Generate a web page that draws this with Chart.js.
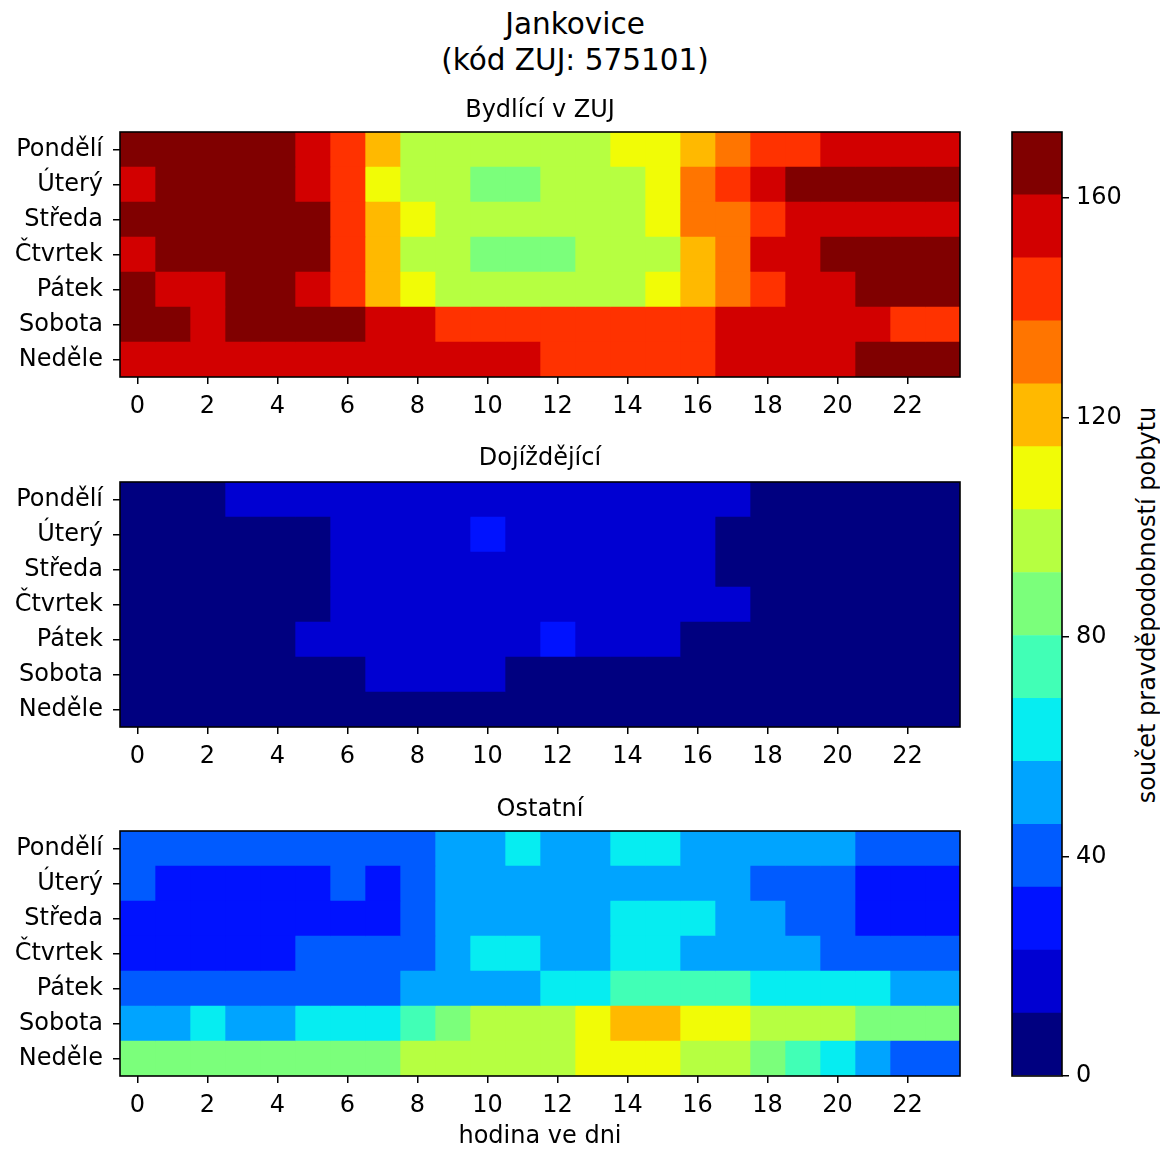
<!DOCTYPE html>
<html>
<head>
<meta charset="utf-8">
<script src="https://cdn.jsdelivr.net/npm/chart.js@4/dist/chart.umd.min.js"></script>
<style>
  html, body { margin: 0; padding: 0; background: #fff; }
  body { width: 1160px; height: 1149px; position: relative; overflow: hidden; font-family: "DejaVu Sans", sans-serif; color: #000; }
  canvas { position: absolute; }
  #sup { position: absolute; left: 0; top: 6px; width: 1150px; text-align: center; font-size: 29.5px; line-height: 36px; }
  #cblabel { position: absolute; left: 1147px; top: 605px; font-size: 24px; white-space: nowrap; transform: translate(-50%, -50%) rotate(-90deg); }
</style>
</head>
<body>
<div id="sup">Jankovice<br>(kód ZUJ: 575101)</div>
<div id="cblabel">součet pravděpodobností pobytu</div>
<canvas id="c1" width="975" height="330" style="left:0;top:90px"></canvas>
<canvas id="c2" width="975" height="330" style="left:0;top:440px"></canvas>
<canvas id="c3" width="975" height="360" style="left:0;top:789px"></canvas>
<canvas id="cb" width="170" height="1000" style="left:990px;top:100px"></canvas>
<script>
// ---------- data ----------
const days = ['Pondělí', 'Úterý', 'Středa', 'Čtvrtek', 'Pátek', 'Sobota', 'Neděle'];
const hours = [0, 1, 2, 3, 4, 5, 6, 7, 8, 9, 10, 11, 12, 13, 14, 15, 16, 17, 18, 19, 20, 21, 22, 23];
const hourTicks = [0, 2, 4, 6, 8, 10, 12, 14, 16, 18, 20, 22];
const colorbarTicks = [0, 40, 80, 120, 160];
const panelTitles = ['Bydlící v ZUJ', 'Dojíždějící', 'Ostatní'];
const xAxisTitle = 'hodina ve dni';
const colorbarTitle = 'součet pravděpodobností pobytu';
const vmin = 0, vmax = 172, nLevels = 15;

// rows = days (Pondělí .. Neděle), columns = hours 0..23
const residents = [
  [166,166,166,166,166,155,143,120, 97, 97, 97, 97, 97, 97,109,109,120,132,143,143,155,155,155,155],
  [155,166,166,166,166,155,143,109, 97, 97, 86, 86, 97, 97, 97,109,132,143,155,166,166,166,166,166],
  [166,166,166,166,166,166,143,120,109, 97, 97, 97, 97, 97, 97,109,132,132,143,155,155,155,155,155],
  [155,166,166,166,166,166,143,120, 97, 97, 86, 86, 86, 97, 97, 97,120,132,155,155,166,166,166,166],
  [166,155,155,166,166,155,143,120,109, 97, 97, 97, 97, 97, 97,109,120,132,143,155,155,166,166,166],
  [166,166,155,166,166,166,166,155,155,143,143,143,143,143,143,143,143,155,155,155,155,155,143,143],
  [155,155,155,155,155,155,155,155,155,155,155,155,143,143,143,143,143,155,155,155,155,166,166,166]
];
const commuters = [
  [  6,  6,  6, 17, 17, 17, 17, 17, 17, 17, 17, 17, 17, 17, 17, 17, 17, 17,  6,  6,  6,  6,  6,  6],
  [  6,  6,  6,  6,  6,  6, 17, 17, 17, 17, 29, 17, 17, 17, 17, 17, 17,  6,  6,  6,  6,  6,  6,  6],
  [  6,  6,  6,  6,  6,  6, 17, 17, 17, 17, 17, 17, 17, 17, 17, 17, 17,  6,  6,  6,  6,  6,  6,  6],
  [  6,  6,  6,  6,  6,  6, 17, 17, 17, 17, 17, 17, 17, 17, 17, 17, 17, 17,  6,  6,  6,  6,  6,  6],
  [  6,  6,  6,  6,  6, 17, 17, 17, 17, 17, 17, 17, 29, 17, 17, 17,  6,  6,  6,  6,  6,  6,  6,  6],
  [  6,  6,  6,  6,  6,  6,  6, 17, 17, 17, 17,  6,  6,  6,  6,  6,  6,  6,  6,  6,  6,  6,  6,  6],
  [  6,  6,  6,  6,  6,  6,  6,  6,  6,  6,  6,  6,  6,  6,  6,  6,  6,  6,  6,  6,  6,  6,  6,  6]
];
const others = [
  [ 40, 40, 40, 40, 40, 40, 40, 40, 40, 52, 52, 63, 52, 52, 63, 63, 52, 52, 52, 52, 52, 40, 40, 40],
  [ 40, 29, 29, 29, 29, 29, 40, 29, 40, 52, 52, 52, 52, 52, 52, 52, 52, 52, 40, 40, 40, 29, 29, 29],
  [ 29, 29, 29, 29, 29, 29, 29, 29, 40, 52, 52, 52, 52, 52, 63, 63, 63, 52, 52, 40, 40, 29, 29, 29],
  [ 29, 29, 29, 29, 29, 40, 40, 40, 40, 52, 63, 63, 52, 52, 63, 63, 52, 52, 52, 52, 40, 40, 40, 40],
  [ 40, 40, 40, 40, 40, 40, 40, 40, 52, 52, 52, 52, 63, 63, 75, 75, 75, 75, 63, 63, 63, 63, 52, 52],
  [ 52, 52, 63, 52, 52, 63, 63, 63, 75, 86, 97, 97, 97,109,120,120,109,109, 97, 97, 97, 86, 86, 86],
  [ 86, 86, 86, 86, 86, 86, 86, 86, 97, 97, 97, 97, 97,109,109,109, 97, 97, 86, 75, 63, 52, 40, 40]
];

// ---------- colour map (discrete jet) ----------
const JR = [[0,0],[0.35,0],[0.66,1],[0.89,1],[1,0.5]];
const JG = [[0,0],[0.125,0],[0.375,1],[0.64,1],[0.91,0],[1,0]];
const JB = [[0,0.5],[0.11,1],[0.34,1],[0.65,0],[1,0]];
function interp(pts, x) {
  for (let i = 1; i < pts.length; i++) {
    if (x <= pts[i][0]) {
      const [x0, y0] = pts[i - 1], [x1, y1] = pts[i];
      return y0 + (y1 - y0) * (x - x0) / (x1 - x0);
    }
  }
  return pts[pts.length - 1][1];
}
function levelOf(v) {
  return Math.max(0, Math.min(nLevels - 1, Math.floor((v - vmin) / (vmax - vmin) * nLevels)));
}
function levelColor(k) {
  const x = k / (nLevels - 1);
  const c = f => Math.round(255 * f);
  return `rgb(${c(interp(JR, x))},${c(interp(JG, x))},${c(interp(JB, x))})`;
}

const FONT = '"DejaVu Sans", sans-serif';
const TICK_FONT = { family: FONT, size: 24 };

const framePlugin = {
  id: 'frame',
  afterDatasetsDraw(chart) {
    const { ctx, chartArea: a } = chart;
    ctx.save();
    ctx.strokeStyle = '#000';
    ctx.lineWidth = 1.6;
    ctx.strokeRect(a.left, a.top, a.right - a.left, a.bottom - a.top);
    ctx.restore();
  }
};

function heatmap(id, title, values, cfg) {
  const datasets = hours.map((h, hi) => ({
    label: String(h),
    data: days.map(() => [h - 0.5, h + 0.5]),
    backgroundColor: days.map((d, di) => levelColor(levelOf(values[di][hi]))),
    borderWidth: 0,
    grouped: false,
    barPercentage: 1,
    categoryPercentage: 1
  }));
  return new Chart(document.getElementById(id), {
    type: 'bar',
    data: { labels: days, datasets },
    plugins: [framePlugin],
    options: {
      indexAxis: 'y',
      responsive: false,
      animation: false,
      devicePixelRatio: 1,
      layout: { padding: { left: 0, right: 15, top: 0, bottom: 0 } },
      plugins: {
        legend: { display: false },
        tooltip: { enabled: false },
        title: {
          display: true, text: title, color: '#000', fullSize: false,
          font: { family: FONT, size: 24, weight: 'normal', lineHeight: 1.15 },
          padding: { top: cfg.pTop, bottom: cfg.pBottom }
        }
      },
      scales: {
        x: {
          type: 'linear', min: -0.5, max: 23.5,
          afterBuildTicks: s => { s.ticks = hourTicks.map(v => ({ value: v })); },
          afterFit: s => { s.height = cfg.xHeight; },
          grid: { drawOnChartArea: false, drawTicks: true, tickLength: 7, color: '#000', lineWidth: 1.5 },
          border: { display: false },
          ticks: { color: '#000', font: TICK_FONT, padding: 8, maxRotation: 0, autoSkip: false },
          title: cfg.xTitle ? { display: true, text: xAxisTitle, color: '#000', font: { family: FONT, size: 24, lineHeight: 1.0 }, padding: { top: 0, bottom: 0 } } : { display: false }
        },
        y: {
          type: 'category', offset: true,
          afterFit: s => { s.width = 120; },
          grid: { offset: false, drawOnChartArea: false, drawTicks: true, tickLength: 7, color: '#000', lineWidth: 1.5 },
          border: { display: false },
          ticks: { color: '#000', font: TICK_FONT, padding: 10, autoSkip: false }
        }
      }
    }
  });
}

heatmap('c1', panelTitles[0], residents, { pTop: 7.2, pBottom: 7.2, xHeight: 43, xTitle: false });
heatmap('c2', panelTitles[1], commuters, { pTop: 5.2, pBottom: 9.2, xHeight: 43, xTitle: false });
heatmap('c3', panelTitles[2], others, { pTop: 7.2, pBottom: 7.2, xHeight: 73, xTitle: true });

// ---------- colour bar ----------
const step = (vmax - vmin) / nLevels;
const cbDatasets = [];
for (let k = 0; k < nLevels; k++) {
  cbDatasets.push({
    data: [[vmin + k * step, vmin + (k + 1) * step]],
    backgroundColor: levelColor(k),
    borderWidth: 0, grouped: false, barPercentage: 1, categoryPercentage: 1
  });
}
new Chart(document.getElementById('cb'), {
  type: 'bar',
  data: { labels: [''], datasets: cbDatasets },
  plugins: [framePlugin],
  options: {
    responsive: false, animation: false, devicePixelRatio: 1,
    layout: { padding: { left: 22, right: 0, top: 32, bottom: 24 } },
    plugins: { legend: { display: false }, tooltip: { enabled: false } },
    scales: {
      x: { display: false },
      y: {
        type: 'linear', position: 'right', min: vmin, max: vmax,
        afterBuildTicks: s => { s.ticks = colorbarTicks.map(v => ({ value: v })); },
        afterFit: s => { s.width = 98; },
        grid: { drawOnChartArea: false, drawTicks: true, tickLength: 7, color: '#000', lineWidth: 1.5 },
        border: { display: false },
        ticks: { color: '#000', font: TICK_FONT, padding: 7 }
      }
    }
  }
});
</script>
</body>
</html>
